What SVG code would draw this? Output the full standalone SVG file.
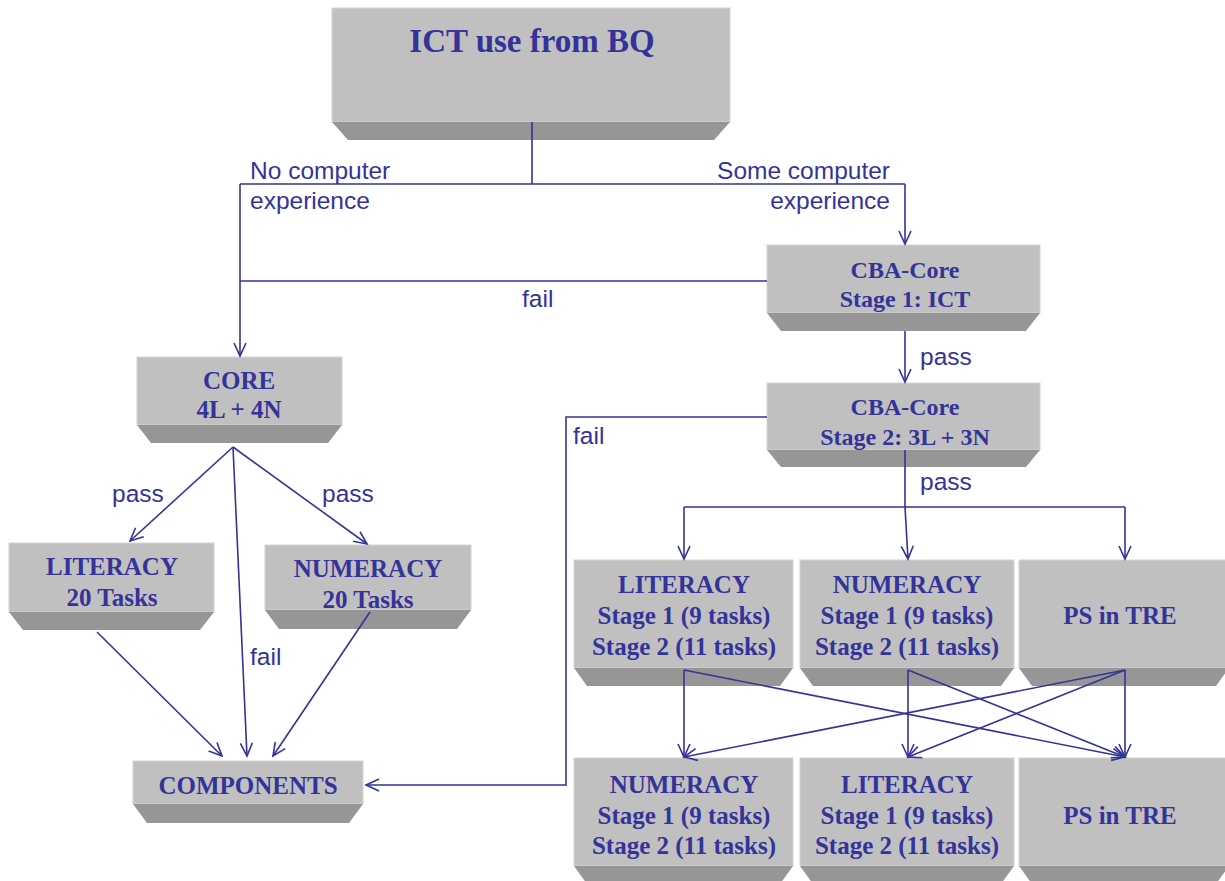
<svg xmlns="http://www.w3.org/2000/svg" width="1225" height="881" viewBox="0 0 1225 881">
<defs>
<style>
.face{fill:#c0c0c0;stroke:#d4d4d4;stroke-width:1}
.bev{fill:#969696}
.bt{font-family:"Liberation Serif",serif;font-weight:bold;fill:#333399;text-anchor:middle;font-size:25px}
.lb{font-family:"Liberation Sans",Arial,sans-serif;font-size:24.5px;fill:#333399}
.ln{fill:none;stroke:#333399;stroke-width:1.6}
.ar{marker-end:url(#ah)}
</style>
<marker id="ah" markerUnits="userSpaceOnUse" markerWidth="16" markerHeight="16" viewBox="0 0 16 16" refX="14" refY="8" orient="auto">
<path d="M1,2 L14,8 L1,14" fill="none" stroke="#333399" stroke-width="1.6"/>
</marker>
</defs>
<rect width="1225" height="881" fill="#ffffff"/>

<g id="n-ict">
<rect class="face" x="332" y="8" width="398" height="114"/>
<polygon class="bev" points="332,122 730,122 714,140 348,140"/>
<text class="bt" x="532" y="52" style="font-size:33px">ICT use from BQ</text>
</g>

<g id="n-cba1">
<rect class="face" x="767" y="245" width="273" height="68"/>
<polygon class="bev" points="767,313 1040,313 1026,331 781,331"/>
<text class="bt" x="905" y="278" style="font-size:24px">CBA-Core</text>
<text class="bt" x="905" y="307" style="font-size:24px">Stage 1: ICT</text>
</g>

<g id="n-cba2">
<rect class="face" x="767" y="383" width="273" height="67"/>
<polygon class="bev" points="767,450 1040,450 1026,467 781,467"/>
<text class="bt" x="905" y="415" style="font-size:24px">CBA-Core</text>
<text class="bt" x="905" y="445" style="font-size:24px">Stage 2: 3L + 3N</text>
</g>

<g id="n-core">
<rect class="face" x="137" y="357" width="205" height="68"/>
<polygon class="bev" points="137,425 342,425 328,443 151,443"/>
<text class="bt" x="239" y="389">CORE</text>
<text class="bt" x="239" y="418">4L + 4N</text>
</g>

<g id="n-lit20">
<rect class="face" x="9" y="543" width="205" height="69"/>
<polygon class="bev" points="9,612 214,612 200,630 23,630"/>
<text class="bt" x="112" y="575">LITERACY</text>
<text class="bt" x="112" y="606">20 Tasks</text>
</g>

<g id="n-num20">
<rect class="face" x="265" y="545" width="206" height="65"/>
<polygon class="bev" points="265,610 471,610 457,629 279,629"/>
<text class="bt" x="368" y="577">NUMERACY</text>
<text class="bt" x="368" y="608">20 Tasks</text>
</g>

<g id="n-components">
<rect class="face" x="133" y="761" width="230" height="43"/>
<polygon class="bev" points="133,804 363,804 349,823 147,823"/>
<text class="bt" x="248" y="794">COMPONENTS</text>
</g>

<g id="n-lit-mid">
<rect class="face" x="574" y="560" width="219" height="108"/>
<polygon class="bev" points="574,668 793,668 780,686 587,686"/>
<text class="bt" x="684" y="593">LITERACY</text>
<text class="bt" x="684" y="624">Stage 1 (9 tasks)</text>
<text class="bt" x="684" y="655">Stage 2 (11 tasks)</text>
</g>

<g id="n-num-mid">
<rect class="face" x="800" y="560" width="214" height="108"/>
<polygon class="bev" points="800,668 1014,668 1001,686 813,686"/>
<text class="bt" x="907" y="593">NUMERACY</text>
<text class="bt" x="907" y="624">Stage 1 (9 tasks)</text>
<text class="bt" x="907" y="655">Stage 2 (11 tasks)</text>
</g>

<g id="n-ps-mid">
<rect class="face" x="1019" y="560" width="210" height="108"/>
<polygon class="bev" points="1019,668 1229,668 1216,686 1032,686"/>
<text class="bt" x="1120" y="624">PS in TRE</text>
</g>

<g id="n-num-bot">
<rect class="face" x="574" y="758" width="219" height="108"/>
<polygon class="bev" points="574,866 793,866 780,884 587,884"/>
<text class="bt" x="684" y="793">NUMERACY</text>
<text class="bt" x="684" y="824">Stage 1 (9 tasks)</text>
<text class="bt" x="684" y="854">Stage 2 (11 tasks)</text>
</g>

<g id="n-lit-bot">
<rect class="face" x="800" y="758" width="214" height="108"/>
<polygon class="bev" points="800,866 1014,866 1001,884 813,884"/>
<text class="bt" x="907" y="793">LITERACY</text>
<text class="bt" x="907" y="824">Stage 1 (9 tasks)</text>
<text class="bt" x="907" y="854">Stage 2 (11 tasks)</text>
</g>

<g id="n-ps-bot">
<rect class="face" x="1019" y="758" width="210" height="108"/>
<polygon class="bev" points="1019,866 1229,866 1216,884 1032,884"/>
<text class="bt" x="1120" y="824">PS in TRE</text>
</g>

<g id="connectors">
<path class="ln" d="M532,122 V184 M240,184 H905"/>
<path class="ln ar" d="M240,184 V356"/>
<path class="ln ar" d="M905,184 V244"/>
<path class="ln" d="M767,281 H240"/>
<path class="ln ar" d="M905,331 V382"/>
<path class="ln ar" d="M767,417 H566 V785 H366"/>
<path class="ln" d="M905,450 V507 M684,507 H1125"/>
<path class="ln ar" d="M684,507 V559"/>
<path class="ln ar" d="M905,507 L908,559"/>
<path class="ln ar" d="M1125,507 V559"/>
<path class="ln ar" d="M684,670 V757"/>
<path class="ln ar" d="M684,670 L1125,757"/>
<path class="ln ar" d="M908,670 V757"/>
<path class="ln ar" d="M908,670 L1125,757"/>
<path class="ln ar" d="M1125,670 V757"/>
<path class="ln ar" d="M1125,670 L684,757"/>
<path class="ln ar" d="M1125,670 L908,757"/>
<path class="ln ar" d="M233,447 L130,541"/>
<path class="ln ar" d="M233,447 L367,544"/>
<path class="ln ar" d="M233,447 L247,756"/>
<path class="ln ar" d="M97,632 L222,756"/>
<path class="ln ar" d="M370,612 L273,756"/>
<text class="lb" x="250" y="179">No computer</text>
<text class="lb" x="250" y="209">experience</text>
<text class="lb" x="890" y="179" text-anchor="end">Some computer</text>
<text class="lb" x="890" y="209" text-anchor="end">experience</text>
<text class="lb" x="522" y="307">fail</text>
<text class="lb" x="920" y="365">pass</text>
<text class="lb" x="573" y="444">fail</text>
<text class="lb" x="920" y="490">pass</text>
<text class="lb" x="112" y="502">pass</text>
<text class="lb" x="322" y="502">pass</text>
<text class="lb" x="250" y="665">fail</text>
</g>
</svg>
